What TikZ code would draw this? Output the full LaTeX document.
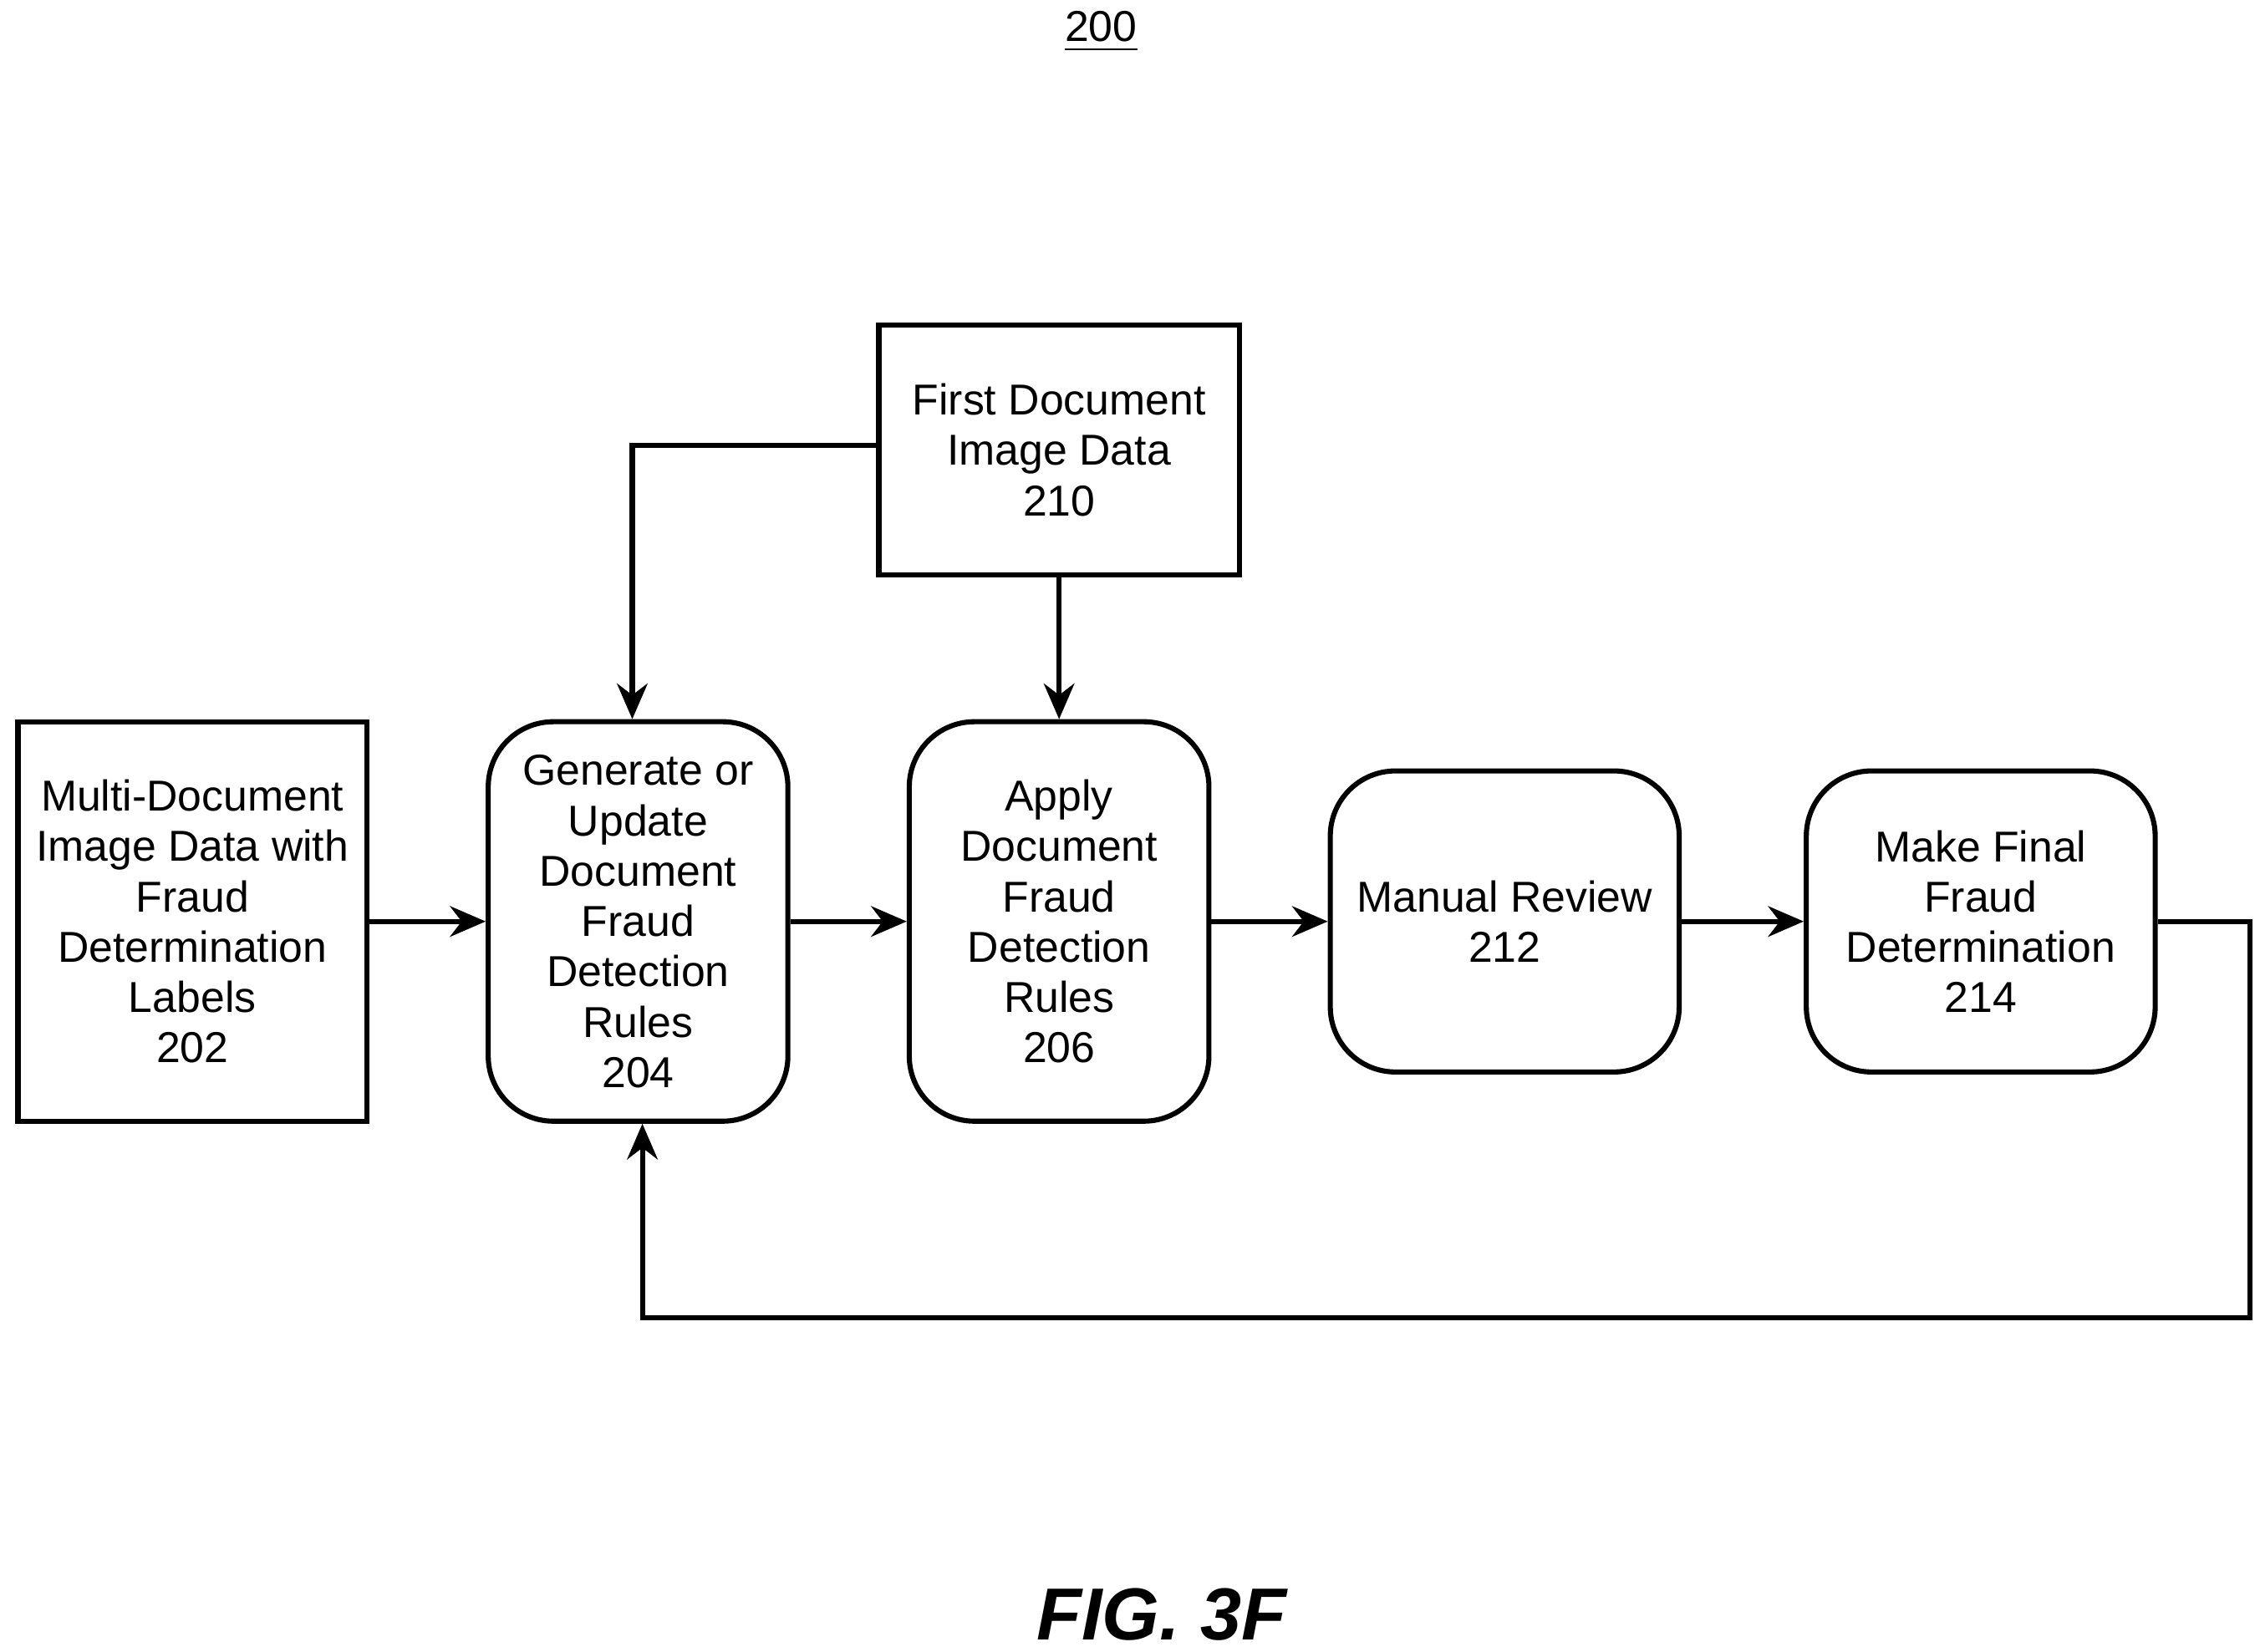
\documentclass[tikz,border=0pt]{standalone}
\usepackage{fontspec}
\setmainfont{Liberation Sans}
\usetikzlibrary{arrows.meta,positioning}

\begin{document}
\begin{tikzpicture}[
    x=0.01cm, y=-0.01cm,
    stage/.style={rectangle, draw, line width=1pt, align=center, font=\fontsize{8.5}{9.9}\selectfont, inner sep=0pt},
    block/.style={stage, minimum width=2.41cm, minimum height=2.76cm},
    rule/.style={stage, rounded corners=0.45cm, minimum width=2.07cm, minimum height=2.76cm},
    review/.style={stage, rounded corners=0.45cm, minimum width=2.41cm, minimum height=2.08cm},
    flow/.style={-{Stealth[length=7pt,width=6pt]}, line width=1pt},
]
\useasboundingbox (0,0) rectangle (1562,1142);

% Title
\node[font=\fontsize{8.5}{10}\selectfont] (title) at (761,22) {\underline{200}};

% Boxes
\node[block] (labels) at (133,637) {Multi-Document\\Image Data with\\Fraud\\Determination\\Labels\\202};
\node[rule] (generate) at (441,637) {Generate or\\Update\\Document\\Fraud\\Detection\\Rules\\204};
\node[rule] (apply) at (732,637) {Apply\\Document\\Fraud\\Detection\\Rules\\206};
\node[stage, minimum width=2.49cm, minimum height=1.73cm] (first) at (732,311) {First Document\\Image Data\\210};
\node[review] (manual) at (1040,637) {Manual Review\\212};
\node[review] (final) at (1369,637) {Make Final\\Fraud\\Determination\\214};

% Arrows
\draw[flow] (labels) -- (generate);
\draw[flow] (generate) -- (apply);
\draw[flow] (apply) -- (manual);
\draw[flow] (manual) -- (final);
\draw[flow] (first) -- (apply);
\draw[flow] (first.west |- 0,308) -| (generate.north -| 437,0);
\draw[flow] (final.east) -- (1555,637) |- (444,911) -- (generate.south -| 444,0);

% Caption
\node[font=\bfseries\itshape\fontsize{14.5}{16}\selectfont] (fig) at (803,1116) {FIG. 3F};
\end{tikzpicture}
\end{document}
